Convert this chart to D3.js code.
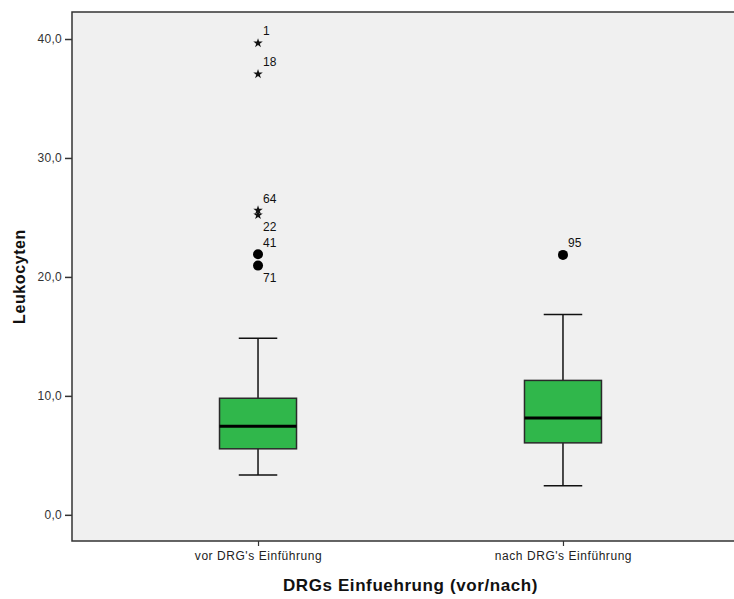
<!DOCTYPE html>
<html>
<head>
<meta charset="utf-8">
<script src="https://cdn.jsdelivr.net/npm/d3@7"></script>
<style>
  body { margin: 0; background: #fff; }
  text { font-family: "Liberation Sans", Arial, sans-serif; }
</style>
</head>
<body>
<div id="chart"></div>
<script>
const groups = ["vor DRG's Einführung", "nach DRG's Einführung"];
const whiskerLow = [3.35, 2.45];
const q1 = [5.55, 6.05];
const median = [7.45, 8.15];
const q3 = [9.8, 11.3];
const whiskerHigh = [14.85, 16.85];

// outliers: group index, value, case number, kind
const outlierGroup = [0, 0, 0, 0, 0, 0, 1];
const outlierValue = [39.65, 37.05, 25.6, 25.2, 21.9, 20.95, 21.85];
const outlierCase = ["1", "18", "64", "22", "41", "71", "95"];
const outlierKind = ["extreme", "extreme", "extreme", "extreme", "mild", "mild", "mild"];
const labelSide = ["up", "up", "up", "down", "up", "down", "up"];

const yTicks = [0, 10, 20, 30, 40];

const width = 734, height = 599;
const plot = { left: 72, top: 12, right: 749, bottom: 541 };

const svg = d3.select("#chart").append("svg")
    .attr("width", width)
    .attr("height", height);

const y = d3.scaleLinear()
    .domain([-2.2, 42.27])
    .range([plot.bottom, plot.top]);

const x = d3.scalePoint()
    .domain(groups)
    .range([plot.left, plot.right])
    .padding(0.61);

const boxW = 77;

svg.append("rect")
    .attr("x", plot.left)
    .attr("y", plot.top)
    .attr("width", plot.right - plot.left)
    .attr("height", plot.bottom - plot.top)
    .attr("fill", "#f0f0f0")
    .attr("stroke", "#333")
    .attr("stroke-width", 1.5);

// y axis
const yAxis = svg.append("g")
    .attr("transform", `translate(${plot.left},0)`)
    .call(d3.axisLeft(y).tickValues(yTicks).tickSize(7).tickPadding(3)
        .tickFormat(d => d3.format(".1f")(d).replace(".", ",")));
yAxis.select(".domain").remove();
yAxis.selectAll(".tick line").attr("stroke", "#333").attr("stroke-width", 1.5);
yAxis.selectAll(".tick text").attr("fill", "#333").style("font-size", "12px")
    .style("letter-spacing", "0.3px");

// x axis
const xAxis = svg.append("g")
    .attr("transform", `translate(0,${plot.bottom})`)
    .call(d3.axisBottom(x).tickSize(5).tickPadding(5));
xAxis.select(".domain").remove();
xAxis.selectAll(".tick line").attr("stroke", "#333").attr("stroke-width", 1.2);
xAxis.selectAll(".tick text").attr("fill", "#222").style("font-size", "12px")
    .style("letter-spacing", "0.55px");

// axis titles
svg.append("text")
    .attr("x", (plot.left + plot.right) / 2)
    .attr("y", 591)
    .attr("text-anchor", "middle")
    .style("font-size", "17px")
    .style("font-weight", "bold")
    .style("letter-spacing", "0.6px")
    .attr("fill", "#111")
    .text("DRGs Einfuehrung (vor/nach)");

svg.append("text")
    .attr("transform", `translate(25,${(plot.top + plot.bottom) / 2}) rotate(-90)`)
    .attr("text-anchor", "middle")
    .style("font-size", "16px")
    .style("font-weight", "bold")
    .style("letter-spacing", "0.6px")
    .attr("fill", "#111")
    .text("Leukocyten");

// boxes
const boxes = groups.map((g, i) => ({
    g, lo: whiskerLow[i], q1: q1[i], med: median[i], q3: q3[i], hi: whiskerHigh[i]
}));

const bg = svg.selectAll(".box")
    .data(boxes)
  .enter().append("g")
    .attr("class", "box");

bg.append("line")
    .attr("x1", d => x(d.g)).attr("x2", d => x(d.g))
    .attr("y1", d => y(d.lo)).attr("y2", d => y(d.q1))
    .attr("stroke", "#111").attr("stroke-width", 1.5);
bg.append("line")
    .attr("x1", d => x(d.g)).attr("x2", d => x(d.g))
    .attr("y1", d => y(d.q3)).attr("y2", d => y(d.hi))
    .attr("stroke", "#111").attr("stroke-width", 1.5);
bg.append("line")
    .attr("x1", d => x(d.g) - boxW / 4).attr("x2", d => x(d.g) + boxW / 4)
    .attr("y1", d => y(d.lo)).attr("y2", d => y(d.lo))
    .attr("stroke", "#111").attr("stroke-width", 1.5);
bg.append("line")
    .attr("x1", d => x(d.g) - boxW / 4).attr("x2", d => x(d.g) + boxW / 4)
    .attr("y1", d => y(d.hi)).attr("y2", d => y(d.hi))
    .attr("stroke", "#111").attr("stroke-width", 1.5);
bg.append("rect")
    .attr("x", d => x(d.g) - boxW / 2)
    .attr("y", d => y(d.q3))
    .attr("width", boxW)
    .attr("height", d => y(d.q1) - y(d.q3))
    .attr("fill", "#30b74b")
    .attr("stroke", "#2a2a2a")
    .attr("stroke-width", 1.5);
bg.append("line")
    .attr("x1", d => x(d.g) - boxW / 2).attr("x2", d => x(d.g) + boxW / 2)
    .attr("y1", d => y(d.med)).attr("y2", d => y(d.med))
    .attr("stroke", "#000").attr("stroke-width", 3);

// outliers
const outliers = outlierValue.map((v, i) => ({
    g: groups[outlierGroup[i]], v, id: outlierCase[i], kind: outlierKind[i], side: labelSide[i]
}));

const star = d3.symbol().type(d3.symbolStar).size(28);

const og = svg.selectAll(".outlier")
    .data(outliers)
  .enter().append("g")
    .attr("class", "outlier")
    .attr("transform", d => `translate(${x(d.g)},${y(d.v)})`);

og.filter(d => d.kind === "mild").append("circle")
    .attr("r", 5)
    .attr("fill", "#000");

og.filter(d => d.kind === "extreme").append("path")
    .attr("d", star)
    .attr("fill", "#111");

og.append("text")
    .attr("x", 5)
    .attr("y", d => d.side === "up" ? -12 : 12)
    .attr("dy", "0.35em")
    .style("font-size", "12px")
    .attr("fill", "#111")
    .text(d => d.id);
</script>
</body>
</html>
